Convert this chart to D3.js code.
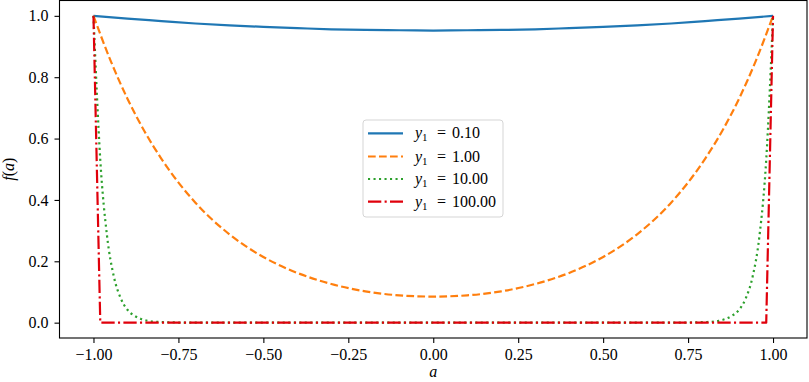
<!DOCTYPE html>
<html>
<head>
<meta charset="utf-8">
<script src="https://cdn.jsdelivr.net/npm/d3@7"></script>
<style>
  body { margin: 0; background: #fff; }
</style>
</head>
<body>
<div id="chart"></div>
<script>
// values
let blueA = [-1, -0.9, -0.8, -0.7, -0.6, -0.5, -0.4, -0.3, -0.2, -0.1, 0, 0.1, 0.2, 0.3, 0.4, 0.5, 0.6, 0.7, 0.8, 0.9, 1];
let blueF = [1, 0.991, 0.983, 0.975, 0.969, 0.964, 0.960, 0.956, 0.954, 0.953, 0.952, 0.953, 0.954, 0.956, 0.960, 0.964, 0.969, 0.975, 0.983, 0.991, 1];

let orangeA = [-1, -0.95, -0.9, -0.85, -0.8, -0.7, -0.6, -0.5, -0.4, -0.3, -0.2, -0.1, 0, 0.1, 0.2, 0.3, 0.4, 0.5, 0.6, 0.7, 0.8, 0.85, 0.9, 0.95, 1];
let orangeF = [1, 0.855, 0.730, 0.624, 0.534, 0.391, 0.288, 0.214, 0.162, 0.126, 0.102, 0.089, 0.085, 0.089, 0.102, 0.126, 0.162, 0.214, 0.288, 0.391, 0.534, 0.624, 0.730, 0.855, 1];

let greenA = [-1, -0.98, -0.96, -0.94, -0.92, -0.9, -0.88, -0.86, -0.84, -0.82, -0.8, -0.75, -0.7, 0.7, 0.75, 0.8, 0.82, 0.84, 0.86, 0.88, 0.9, 0.92, 0.94, 0.96, 0.98, 1];
let greenF = [1, 0.531, 0.282, 0.150, 0.080, 0.042, 0.023, 0.012, 0.006, 0.003, 0.002, 0.0004, 0, 0, 0.0004, 0.002, 0.003, 0.006, 0.012, 0.023, 0.042, 0.080, 0.150, 0.282, 0.531, 1];

let redA = [-1, -0.98, 0.98, 1];
let redF = [1, 0, 0, 1];

let seriesNames = ["0.10", "1.00", "10.00", "100.00"];
let xTicks = [-1, -0.75, -0.5, -0.25, 0, 0.25, 0.5, 0.75, 1];
let yTicks = [0, 0.2, 0.4, 0.6, 0.8, 1.0];

let W = 809, H = 382;
let mLeft = 59.5, mRight = 807, mTop = 0.5, mBottom = 338;
let serif = "'Liberation Serif', 'Times New Roman', 'DejaVu Serif', serif";

let svg = d3.select("#chart").append("svg")
    .attr("width", W).attr("height", H);

let x = d3.scaleLinear().domain([-1.1, 1.1]).range([mLeft, mRight]);
let y = d3.scaleLinear().domain([-0.05, 1.05]).range([mBottom, mTop]);

let series = [
  { a: blueA, f: blueF, color: "#1f77b4", dash: null, curve: d3.curveMonotoneX },
  { a: orangeA, f: orangeF, color: "#ff7f0e", dash: "7.7,3.3", curve: d3.curveMonotoneX },
  { a: greenA, f: greenF, color: "#2ca02c", dash: "2.1,3.4", curve: d3.curveMonotoneX },
  { a: redA, f: redF, color: "#e0000b", dash: "13.3,3.3,2.1,3.3", curve: d3.curveLinear }
];

let plot = svg.append("g");
series.forEach(function (s) {
  let pts = s.a.map(function (v, i) { return [v, s.f[i]]; });
  plot.append("path")
    .datum(pts)
    .attr("fill", "none")
    .attr("stroke", s.color)
    .attr("stroke-width", 2.2)
    .attr("stroke-dasharray", s.dash)
    .attr("stroke-linejoin", "round")
    .attr("d", d3.line().curve(s.curve)
      .x(function (d) { return x(d[0]); })
      .y(function (d) { return y(d[1]); }));
});

// frame
svg.append("rect")
  .attr("x", mLeft).attr("y", mTop)
  .attr("width", mRight - mLeft).attr("height", mBottom - mTop)
  .attr("fill", "none").attr("stroke", "#000").attr("stroke-width", 1.1);

// x axis
let xAxis = svg.append("g")
  .attr("transform", `translate(0,${mBottom})`)
  .call(d3.axisBottom(x).tickValues(xTicks).tickSize(5).tickPadding(6)
    .tickFormat(function (d) { return d3.format(".2f")(d).replace("-", "\u2212"); }));
xAxis.select(".domain").remove();
xAxis.selectAll("line").attr("stroke-width", 1.1);
xAxis.selectAll("text").style("font-size", "16px").style("font-family", serif).attr("fill", "#000");

// y axis
let yAxis = svg.append("g")
  .attr("transform", `translate(${mLeft},0)`)
  .call(d3.axisLeft(y).tickValues(yTicks).tickSize(5).tickPadding(6)
    .tickFormat(d3.format(".1f")));
yAxis.select(".domain").remove();
yAxis.selectAll("line").attr("stroke-width", 1.1);
yAxis.selectAll("text").style("font-size", "16px").style("font-family", serif).attr("fill", "#000");

// axis labels
svg.append("text")
  .attr("x", x(0)).attr("y", 377)
  .attr("text-anchor", "middle")
  .style("font-size", "16px").style("font-family", serif).style("font-style", "italic")
  .text("a");

let yl = svg.append("text")
  .attr("transform", `translate(14,${(mTop + mBottom) / 2}) rotate(-90)`)
  .attr("text-anchor", "middle")
  .style("font-size", "16px").style("font-family", serif);
yl.append("tspan").style("font-style", "italic").text("f");
yl.append("tspan").text("(");
yl.append("tspan").style("font-style", "italic").text("a");
yl.append("tspan").text(")");

// legend
let lg = svg.append("g");
lg.append("rect")
  .attr("x", 363).attr("y", 120)
  .attr("width", 140).attr("height", 97)
  .attr("rx", 3)
  .attr("fill", "#fff").attr("fill-opacity", 0.8)
  .attr("stroke", "#d5d5d5").attr("stroke-width", 1);

let rowY = [133.3, 156.5, 179, 201.7];
series.forEach(function (s, i) {
  lg.append("line")
    .attr("x1", 368).attr("x2", 403)
    .attr("y1", rowY[i]).attr("y2", rowY[i])
    .attr("stroke", s.color).attr("stroke-width", 2.2)
    .attr("stroke-dasharray", s.dash);
  let t = lg.append("text")
    .attr("x", 415).attr("y", rowY[i] + 5)
    .style("font-size", "16px").style("font-family", serif);
  t.append("tspan").style("font-style", "italic").text("y");
  t.append("tspan").style("font-size", "11px").attr("dy", 3).text("1");
  t.append("tspan").attr("x", 437).attr("dy", -3).text("=");
  t.append("tspan").attr("x", 452).text(seriesNames[i]);
});
</script>
</body>
</html>
